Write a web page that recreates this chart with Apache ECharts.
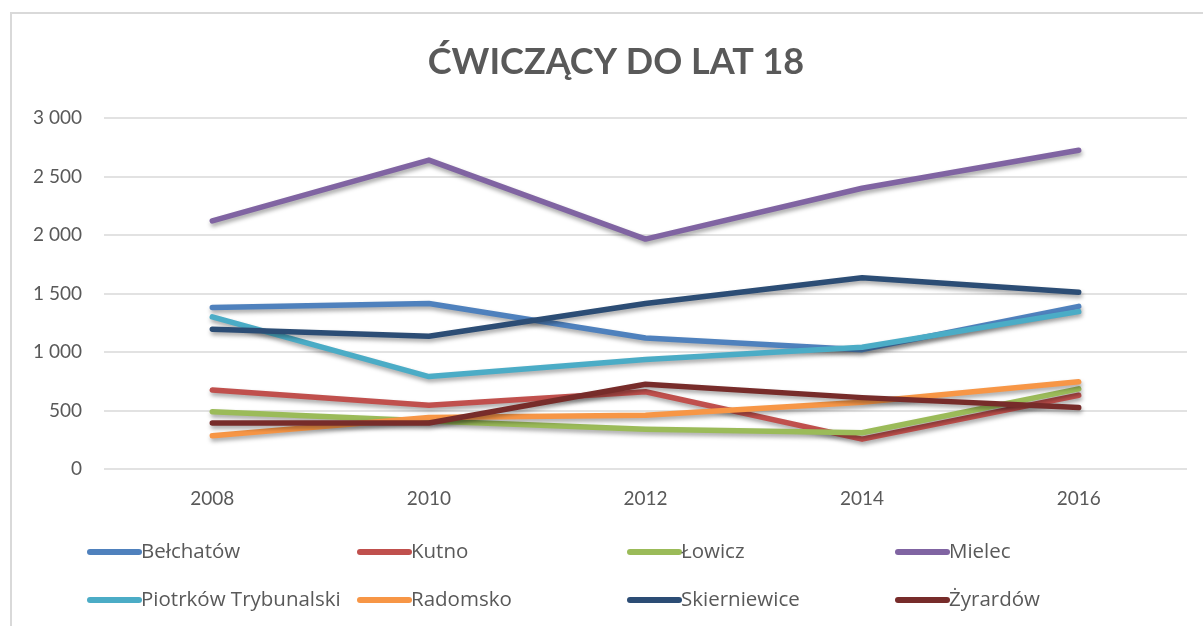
<!DOCTYPE html>
<html>
<head>
<meta charset="utf-8">
<script src="https://cdn.jsdelivr.net/npm/echarts@6/dist/echarts.min.js"></script>
<style>
  html, body { margin: 0; padding: 0; background: #ffffff; }
  #chart { width: 1203px; height: 626px; }
</style>
</head>
<body>
<div id="chart"></div>
<script>
// Lata pomiaru
const years = ['2008', '2010', '2012', '2014', '2016'];

// Liczba ćwiczących do lat 18 w poszczególnych miastach
const belchatow     = [1380, 1415, 1120, 1020, 1390];
const kutno         = [675, 545, 660, 255, 630];
const lowicz        = [490, 410, 340, 310, 685];
const mielec        = [2120, 2640, 1965, 2400, 2725];
const piotrkow      = [1300, 790, 935, 1040, 1345];
const radomsko      = [285, 440, 460, 570, 745];
const skierniewice  = [1195, 1135, 1415, 1635, 1510];
const zyrardow      = [393, 393, 725, 610, 525];

const cityNames = ['Bełchatów', 'Kutno', 'Łowicz', 'Mielec',
                   'Piotrków Trybunalski', 'Radomsko', 'Skierniewice', 'Żyrardów'];
const cityValues = [belchatow, kutno, lowicz, mielec, piotrkow, radomsko, skierniewice, zyrardow];
const cityColors = ['#4F81BD', '#C0504D', '#9BBB59', '#8064A2',
                    '#4BACC6', '#F79646', '#2C4D75', '#772C2A'];

// Tick values of the value axis
const yMin = 0, yMax = 3000, yStep = 500;

const FONT = 'Lato, "Open Sans", sans-serif';
const LEGEND_FONT = '"Open Sans", Lato, sans-serif';
const TEXT = '#595959';

const chart = echarts.init(document.getElementById('chart'), null, { renderer: 'canvas' });

const series = cityNames.map((name, i) => ({
  name: name,
  type: 'line',
  data: cityValues[i],
  symbol: 'none',
  color: cityColors[i],
  lineStyle: {
    width: 5.5,
    cap: 'round',
    join: 'round',
    shadowColor: 'rgba(0,0,0,0.35)',
    shadowBlur: 4,
    shadowOffsetX: 1,
    shadowOffsetY: 3
  },
  emphasis: { disabled: true },
  animation: false
}));

// Four legend columns, two entries each
const legendCols = [82, 352, 622, 890];
const legends = legendCols.map((x, c) => ({
  orient: 'vertical',
  left: x,
  top: 535,
  itemWidth: 55,
  itemHeight: 6,
  itemGap: 24,
  icon: 'path://M3,0 L52,0 A3,3 0 0 1 52,6 L3,6 A3,3 0 0 1 3,0 Z',
  selectedMode: false,
  data: [cityNames[c], cityNames[c + 4]],
  textStyle: { color: TEXT, fontFamily: LEGEND_FONT, fontSize: 20.5, lineHeight: 24, padding: [0, 0, 0, -6] }
}));

chart.setOption({
  backgroundColor: '#ffffff',
  animation: false,
  title: {
    text: 'ĆWICZĄCY DO LAT 18',
    left: 611,
    textAlign: 'center',
    top: 39,
    textStyle: { color: TEXT, fontFamily: FONT, fontSize: 36, fontWeight: 'bold' }
  },
  graphic: [{
    type: 'rect',
    shape: { x: 11, y: 13, width: 1220, height: 640 },
    style: { fill: null, stroke: '#d9d9d9', lineWidth: 2 },
    silent: true
  }],
  legend: legends,
  grid: { left: 104, right: 16, top: 118, bottom: 157, containLabel: false },
  xAxis: {
    type: 'category',
    data: years,
    boundaryGap: true,
    axisLine: { show: false },
    axisTick: { show: false },
    axisLabel: { color: TEXT, fontFamily: FONT, fontSize: 19, margin: 20 }
  },
  yAxis: {
    type: 'value',
    min: yMin,
    max: yMax,
    interval: yStep,
    axisLine: { show: false },
    axisTick: { show: false },
    splitLine: { lineStyle: { color: '#d9d9d9', width: 1.5 } },
    axisLabel: {
      color: TEXT, fontFamily: FONT, fontSize: 19, margin: 22,
      formatter: v => String(v).replace(/\B(?=(\d{3})+(?!\d))/g, ' ')
    }
  },
  tooltip: { show: false },
  series: series
});
</script>
</body>
</html>
